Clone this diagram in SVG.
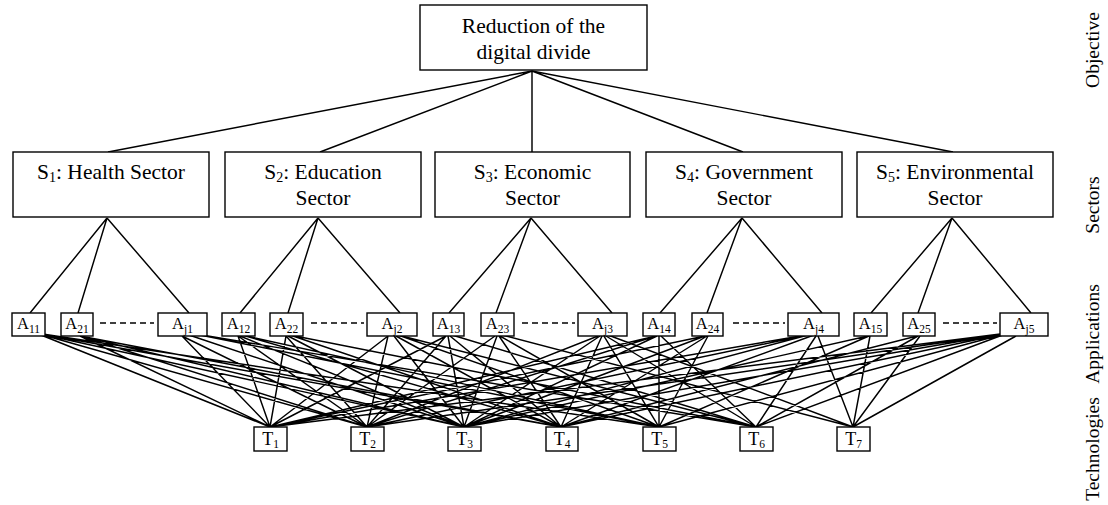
<svg xmlns="http://www.w3.org/2000/svg" width="1108" height="505" viewBox="0 0 1108 505">
  <style>
    .box { fill: #fff; stroke: #000; stroke-width: 1.4; }
    .wire { fill: none; stroke: #000; stroke-width: 1.45; }
    .dash { fill: none; stroke: #000; stroke-width: 1.3; stroke-dasharray: 6 4; }
    text { font-family: 'Liberation Serif', 'Times New Roman', Times, 'DejaVu Serif', serif; fill: #000; text-anchor: middle; }
    .big { font-size: 21.5px; }
    .app { font-size: 16.5px; }
    .tech { font-size: 18px; }
    .sub { font-size: 11.5px; }
    .ssub { font-size: 14px; }
    .level { font-size: 19.5px; }
  </style>
  <rect width="1108" height="505" fill="#fff"/>

  <!-- connectors -->
  <g id="connectors">
    <!-- objective to sectors -->
    <path class="wire" d="M532,71 L108,152 M532,71 L320,152 M532,71 L532,152 M532,71 L743,152 M532,71 L953,152"/>
    <!-- sectors to applications -->
    <path class="wire" d="M107,218 L30,313 M107,218 L78,313 M107,218 L189,313
                          M318,218 L240,313 M318,218 L288,313 M318,218 L400,313
                          M531,218 L449,313 M531,218 L496,313 M531,218 L612,313
                          M742,218 L660,313 M742,218 L707,313 M742,218 L822,313
                          M952,218 L871,313 M952,218 L918,313 M952,218 L1031,313"/>
    <!-- applications to technologies -->
    <path class="wire" d="
      M36,333 L270,427 M36,333 L367,427 M36,333 L464,427 M36,333 L561,427 M36,333 L659,427
      M80,336 L270,427 M80,336 L367,427 M80,336 L464,427 M80,336 L561,427
      M182,336 L270,427 M182,336 L367,427 M186,334 L464,427 M190,333 L659,427 M190,333 L756,427
      M238,336 L270,427 M238,336 L367,427 M240,336 L464,427 M242,335 L561,427 M242,335 L659,427
      M286,336 L270,427 M286,336 L367,427 M288,336 L464,427 M290,335 L561,427 M290,335 L756,427
      M388,336 L270,427 M388,336 L367,427 M394,336 L464,427 M396,336 L561,427 M398,335 L659,427 M398,335 L756,427
      M446,336 L270,427 M446,336 L367,427 M448,336 L464,427 M450,336 L561,427 M452,335 L756,427
      M495,336 L367,427 M497,336 L464,427 M499,336 L561,427 M500,336 L659,427 M502,335 L853,427
      M598,336 L367,427 M600,336 L464,427 M602,336 L561,427 M604,336 L659,427 M606,336 L756,427 M608,335 L853,427
      M656,336 L270,427 M656,336 L367,427 M657,336 L464,427 M659,336 L659,427 M661,336 L756,427
      M705,336 L270,427 M705,336 L464,427 M707,336 L561,427 M708,336 L659,427
      M812,334 L270,427 M812,334 L367,427 M812,334 L464,427 M814,335 L561,427 M816,336 L756,427 M818,336 L853,427
      M868,336 L464,427 M869,336 L659,427 M870,336 L853,427
      M917,336 L561,427 M918,336 L756,427 M920,336 L853,427
      M1008,333 L270,427 M1008,333 L367,427 M1008,333 L464,427 M1008,333 L561,427 M1008,333 L659,427 M1008,333 L756,427 M1016,336 L853,427"/>
    <!-- elided applications -->
    <path class="dash" d="M100,323 H154 M311,323 H364 M522,323 H575 M733,323 H785 M943,323 H997"/>
  </g>

  <!-- objective -->
  <g id="objective">
    <rect class="box" x="420" y="5" width="227" height="65"/>
    <text class="big" x="533.5" y="33">Reduction of the</text>
    <text class="big" x="533.5" y="59">digital divide</text>
  </g>

  <!-- sectors -->
  <g id="sector-s1">
    <rect class="box" x="13" y="152" width="196" height="65"/>
    <text class="big" x="111" y="179">S<tspan class="ssub" dy="3">1</tspan><tspan dy="-3">: Health Sector</tspan></text>
  </g>
  <g id="sector-s2">
    <rect class="box" x="225" y="152" width="196" height="65"/>
    <text class="big" x="323" y="179">S<tspan class="ssub" dy="3">2</tspan><tspan dy="-3">: Education</tspan></text>
    <text class="big" x="323" y="205">Sector</text>
  </g>
  <g id="sector-s3">
    <rect class="box" x="435" y="152" width="195" height="65"/>
    <text class="big" x="532.5" y="179">S<tspan class="ssub" dy="3">3</tspan><tspan dy="-3">: Economic</tspan></text>
    <text class="big" x="532.5" y="205">Sector</text>
  </g>
  <g id="sector-s4">
    <rect class="box" x="646" y="152" width="196" height="65"/>
    <text class="big" x="744" y="179">S<tspan class="ssub" dy="3">4</tspan><tspan dy="-3">: Government</tspan></text>
    <text class="big" x="744" y="205">Sector</text>
  </g>
  <g id="sector-s5">
    <rect class="box" x="857" y="152" width="196" height="65"/>
    <text class="big" x="955" y="179">S<tspan class="ssub" dy="3">5</tspan><tspan dy="-3">: Environmental</tspan></text>
    <text class="big" x="955" y="205">Sector</text>
  </g>

  <!-- applications -->
  <g id="app-a11"><rect class="box" x="12" y="313" width="33" height="23"/><text class="app" x="28.5" y="329">A<tspan class="sub" dy="4">11</tspan></text></g>
  <g id="app-a21"><rect class="box" x="61" y="313" width="32" height="23"/><text class="app" x="77" y="329">A<tspan class="sub" dy="4">21</tspan></text></g>
  <g id="app-aj1"><rect class="box" x="158" y="313" width="49" height="23"/><text class="app" x="182.5" y="329">A<tspan class="sub" dy="4">j1</tspan></text></g>
  <g id="app-a12"><rect class="box" x="222" y="313" width="33" height="23"/><text class="app" x="238.5" y="329">A<tspan class="sub" dy="4">12</tspan></text></g>
  <g id="app-a22"><rect class="box" x="270" y="313" width="33" height="23"/><text class="app" x="286.5" y="329">A<tspan class="sub" dy="4">22</tspan></text></g>
  <g id="app-aj2"><rect class="box" x="367" y="313" width="50" height="23"/><text class="app" x="392" y="329">A<tspan class="sub" dy="4">j2</tspan></text></g>
  <g id="app-a13"><rect class="box" x="433" y="313" width="31" height="23"/><text class="app" x="448.5" y="329">A<tspan class="sub" dy="4">13</tspan></text></g>
  <g id="app-a23"><rect class="box" x="481" y="313" width="33" height="23"/><text class="app" x="497.5" y="329">A<tspan class="sub" dy="4">23</tspan></text></g>
  <g id="app-aj3"><rect class="box" x="578" y="313" width="49" height="23"/><text class="app" x="602.5" y="329">A<tspan class="sub" dy="4">j3</tspan></text></g>
  <g id="app-a14"><rect class="box" x="643" y="313" width="32" height="23"/><text class="app" x="659" y="329">A<tspan class="sub" dy="4">14</tspan></text></g>
  <g id="app-a24"><rect class="box" x="692" y="313" width="31" height="23"/><text class="app" x="707.5" y="329">A<tspan class="sub" dy="4">24</tspan></text></g>
  <g id="app-aj4"><rect class="box" x="788" y="313" width="51" height="23"/><text class="app" x="813.5" y="329">A<tspan class="sub" dy="4">j4</tspan></text></g>
  <g id="app-a15"><rect class="box" x="854" y="313" width="33" height="23"/><text class="app" x="870.5" y="329">A<tspan class="sub" dy="4">15</tspan></text></g>
  <g id="app-a25"><rect class="box" x="903" y="313" width="32" height="23"/><text class="app" x="919" y="329">A<tspan class="sub" dy="4">25</tspan></text></g>
  <g id="app-aj5"><rect class="box" x="1000" y="313" width="48" height="23"/><text class="app" x="1024" y="329">A<tspan class="sub" dy="4">j5</tspan></text></g>

  <!-- technologies -->
  <g id="tech-t1"><rect class="box" x="254" y="427" width="33" height="24"/><text class="tech" x="270.5" y="445">T<tspan class="sub" dy="3">1</tspan></text></g>
  <g id="tech-t2"><rect class="box" x="351" y="427" width="33" height="24"/><text class="tech" x="367.5" y="445">T<tspan class="sub" dy="3">2</tspan></text></g>
  <g id="tech-t3"><rect class="box" x="448" y="427" width="33" height="24"/><text class="tech" x="464.5" y="445">T<tspan class="sub" dy="3">3</tspan></text></g>
  <g id="tech-t4"><rect class="box" x="546" y="427" width="32" height="24"/><text class="tech" x="562" y="445">T<tspan class="sub" dy="3">4</tspan></text></g>
  <g id="tech-t5"><rect class="box" x="643" y="427" width="33" height="24"/><text class="tech" x="659.5" y="445">T<tspan class="sub" dy="3">5</tspan></text></g>
  <g id="tech-t6"><rect class="box" x="740" y="427" width="33" height="24"/><text class="tech" x="756.5" y="445">T<tspan class="sub" dy="3">6</tspan></text></g>
  <g id="tech-t7"><rect class="box" x="837" y="427" width="33" height="24"/><text class="tech" x="853.5" y="445">T<tspan class="sub" dy="3">7</tspan></text></g>

  <!-- level captions -->
  <g id="level-labels">
    <text class="level" transform="translate(1099,50) rotate(-90)">Objective</text>
    <text class="level" transform="translate(1099,205) rotate(-90)">Sectors</text>
    <text class="level" transform="translate(1099,334) rotate(-90)">Applications</text>
    <text class="level" transform="translate(1099,449) rotate(-90)">Technologies</text>
  </g>
</svg>
